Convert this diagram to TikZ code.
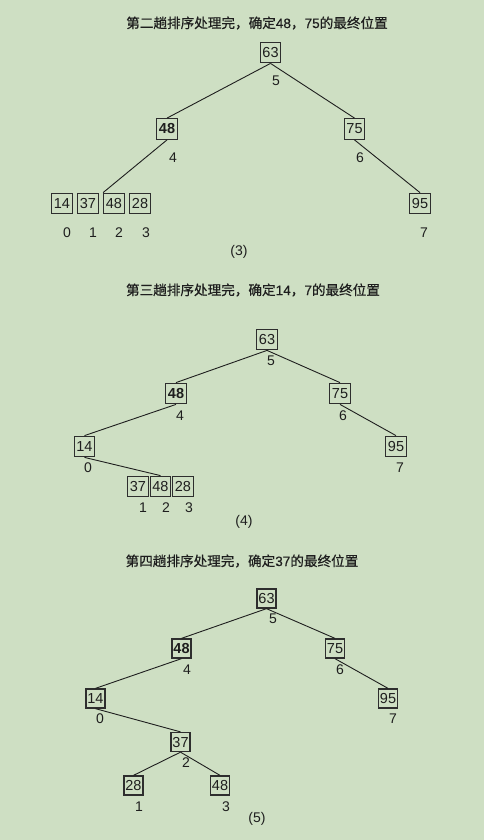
\documentclass[tikz,border=0pt]{standalone}
\usepackage{fontspec}
\setmainfont{Liberation Sans}
\newfontfamily\cjk[FakeBold=0.6]{Noto Sans CJK SC}
\newfontfamily\dig[FakeBold=0.4]{Liberation Sans}
\definecolor{bg}{HTML}{CEDFC3}
\definecolor{ink}{HTML}{1E1E1E}
\definecolor{frame}{HTML}{2E2E2E}
\tikzset{
  box/.style={draw=frame, line width=1.3pt, minimum width=20.5pt, minimum height=20.5pt, inner sep=0pt, text=ink, font=\fontsize{14.5}{14}\selectfont},
  boxs/.style={box, minimum width=19pt, minimum height=19pt},
  lbl/.style={inner sep=0pt, text=ink, font=\fontsize{14}{14}\selectfont},
  ttl/.style={inner sep=0pt, text=ink, font=\cjk\fontsize{13.6}{16}\selectfont},
  edge/.style={draw=ink, line width=0.9pt}
}
\begin{document}
\begin{tikzpicture}[x=1pt,y=-1pt]
\fill[bg] (0,0) rectangle (484,840);
\useasboundingbox (0,0) rectangle (484,840);
% ---------- panel (3)
\node[ttl] (t1) at (257,23) {第二趟排序处理完，确定{\dig 48}，{\dig 75}的最终位置};
\node[box] (a63) at (270.5,52.5) {63};
\node[lbl] (la5) at (276,81) {5};
\node[box,font=\fontsize{14.5}{14}\selectfont\bfseries] (a48) at (167,129) {48};
\node[lbl] (la4) at (173,158) {4};
\node[box] (a75) at (354.5,129) {75};
\node[lbl] (la6) at (360,158) {6};
\node[box] (a14) at (62,203.5) {14};
\node[box] (a37) at (88,203.5) {37};
\node[box] (a48b) at (114,203.5) {48};
\node[box] (a28) at (140,203.5) {28};
\node[box] (a95) at (420,203.5) {95};
\node[lbl] (la0) at (67,233) {0};
\node[lbl] (la1) at (93,233) {1};
\node[lbl] (la2) at (119,233) {2};
\node[lbl] (la3) at (146,233) {3};
\node[lbl] (la7) at (424,233) {7};
\node[lbl] (cap3) at (239,252) {(3)};
\draw[edge] (a63.south) -- (a48.north);
\draw[edge] (a63.south) -- (a75.north);
\draw[edge] (a48.south) -- (a48b.north west);
\draw[edge] (a75.south) -- (a95.north);
% ---------- panel (4)
\node[ttl] (t2) at (253,290) {第三趟排序处理完，确定{\dig 14}，{\dig 7}的最终位置};
\node[box] (b63) at (267,339.5) {63};
\node[lbl] (lb5) at (271,361) {5};
\node[box,font=\fontsize{14.5}{14}\selectfont\bfseries] (b48) at (176,393.5) {48};
\node[lbl] (lb4) at (180,416) {4};
\node[box] (b75) at (340,393.5) {75};
\node[lbl] (lb6) at (343,416) {6};
\node[box] (b14) at (84.5,446.5) {14};
\node[lbl] (lb0) at (88,468) {0};
\node[box] (b95) at (396,446.5) {95};
\node[lbl] (lb7) at (400,468) {7};
\node[box] (b37) at (138,486.5) {37};
\node[box] (b48b) at (160.5,486.5) {48};
\node[box] (b28) at (183,486.5) {28};
\node[lbl] (lb1) at (143,508) {1};
\node[lbl] (lb2) at (166,508) {2};
\node[lbl] (lb3) at (189,508) {3};
\node[lbl] (cap4) at (244,522) {(4)};
\draw[edge] (b63.south) -- (b48.north);
\draw[edge] (b63.south) -- (b75.north);
\draw[edge] (b48.south) -- (b14.north);
\draw[edge] (b75.south) -- (b95.north);
\draw[edge] (b14.south) -- (b48b.north);
% ---------- panel (5)
\node[ttl] (t3) at (242,561) {第四趟排序处理完，确定{\dig 37}的最终位置};
\node[boxs] (c63) at (266.5,598.5) {63};
\node[lbl] (lc5) at (273,619) {5};
\node[boxs,font=\fontsize{14.5}{14}\selectfont\bfseries] (c48) at (181.5,648.5) {48};
\node[lbl] (lc4) at (187,670) {4};
\node[boxs] (c75) at (335,648.5) {75};
\node[lbl] (lc6) at (340,670) {6};
\node[boxs] (c14) at (95.5,698.5) {14};
\node[lbl] (lc0) at (100,719) {0};
\node[boxs] (c95) at (388,698.5) {95};
\node[lbl] (lc7) at (393,719) {7};
\node[boxs] (c37) at (180.5,742) {37};
\node[lbl] (lc2) at (186,763) {2};
\node[boxs] (c28) at (133.5,785.5) {28};
\node[lbl] (lc1) at (139,807) {1};
\node[boxs] (c48b) at (220,785.5) {48};
\node[lbl] (lc3) at (226,807) {3};
\node[lbl] (cap5) at (257,819) {(5)};
\draw[edge] (c63.south) -- (c48.north);
\draw[edge] (c63.south) -- (c75.north);
\draw[edge] (c48.south) -- (c14.north);
\draw[edge] (c75.south) -- (c95.north);
\draw[edge] (c14.south) -- (c37.north);
\draw[edge] (c37.south) -- (c28.north);
\draw[edge] (c37.south) -- (c48b.north);
\end{tikzpicture}
\end{document}
